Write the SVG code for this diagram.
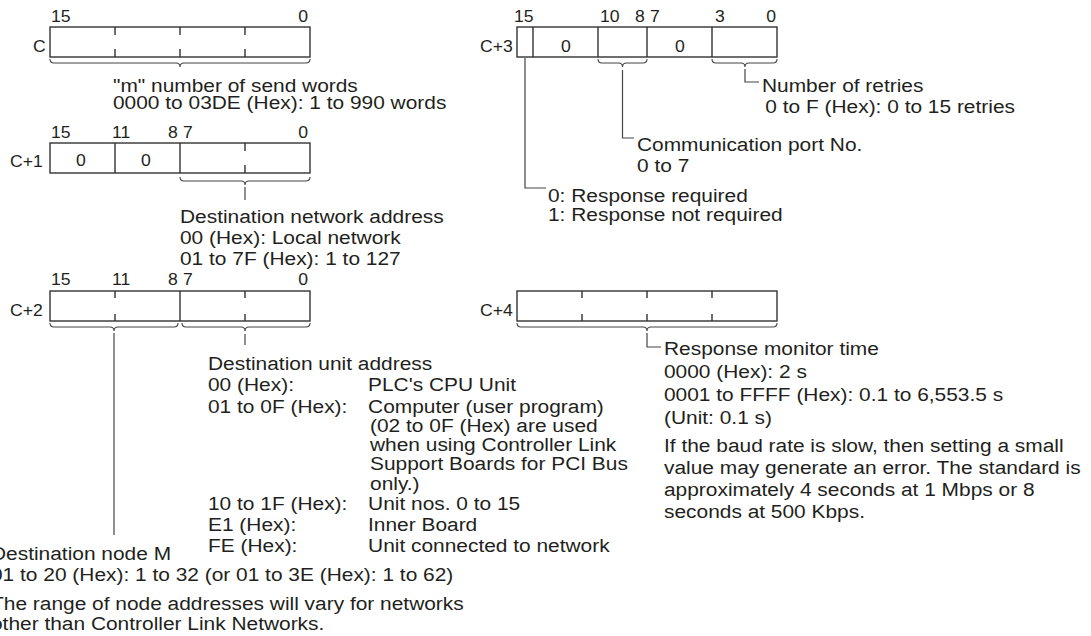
<svg xmlns="http://www.w3.org/2000/svg" width="1091" height="636" viewBox="0 0 1091 636">
<style>
.box{fill:none;stroke:#333;stroke-width:1.4}
.tk{fill:none;stroke:#333;stroke-width:1.4}
.br{fill:none;stroke:#444;stroke-width:1.1}
.ln{fill:none;stroke:#444;stroke-width:1.2}
.t{font-family:"Liberation Sans",Arial,sans-serif;font-size:19px;fill:#231f20}
.l{font-family:"Liberation Sans",Arial,sans-serif;font-size:16px;fill:#231f20}
.e{text-anchor:end}
.m{text-anchor:middle}
</style>
<rect width="1091" height="636" fill="#fff"/>

<g id="word-c">
<text class="l" transform="translate(51,21.5) scale(1.1,1)">15</text>
<text class="l e" transform="translate(308,21.5) scale(1.1,1)">0</text>
<text class="l" transform="translate(33,52) scale(1.1,1)">C</text>
<rect class="box" x="50" y="27" width="260" height="30"/>
<path class="tk" d="M115,27V35M115,49V57M180,27V35M180,49V57M245,27V35M245,49V57"/>
</g>
<g id="note-c">
<text class="t" transform="translate(113,91.5) scale(1.1,1)"><tspan x="0" y="0">"m" number of send words</tspan><tspan x="0" y="17.5">0000 to 03DE (Hex): 1 to 990 words</tspan></text>
</g>

<g id="word-c1">
<text class="l" transform="translate(51,138) scale(1.1,1)">15</text>
<text class="l" transform="translate(112,138) scale(1.1,1)">11</text>
<text class="l" transform="translate(168,138) scale(1.1,1)">8</text>
<text class="l" transform="translate(183,138) scale(1.1,1)">7</text>
<text class="l e" transform="translate(308,138) scale(1.1,1)">0</text>
<text class="l" transform="translate(10,167) scale(1.1,1)">C+1</text>
<rect class="box" x="50" y="143" width="260" height="30"/>
<path class="tk" d="M115,143V173M180,143V173M245,143V151M245,165V173"/>
<text class="l m" transform="translate(81,166) scale(1.1,1)">0</text>
<text class="l m" transform="translate(146,166) scale(1.1,1)">0</text>
</g>
<g id="note-c1">
<text class="t" transform="translate(180,223) scale(1.1,1)"><tspan x="0" y="0">Destination network address</tspan><tspan x="0" y="21">00 (Hex): Local network</tspan><tspan x="0" y="42">01 to 7F (Hex): 1 to 127</tspan></text>
</g>

<g id="word-c2">
<text class="l" transform="translate(51,285) scale(1.1,1)">15</text>
<text class="l" transform="translate(112,285) scale(1.1,1)">11</text>
<text class="l" transform="translate(168,285) scale(1.1,1)">8</text>
<text class="l" transform="translate(183,285) scale(1.1,1)">7</text>
<text class="l e" transform="translate(308,285) scale(1.1,1)">0</text>
<text class="l" transform="translate(10,316) scale(1.1,1)">C+2</text>
<rect class="box" x="50" y="291" width="260" height="30"/>
<path class="tk" d="M180,291V321M115,291V298M115,314V321M245,291V298M245,314V321"/>
</g>
<g id="note-c2-unit">
<text class="t" transform="translate(208,370) scale(1.1,1)"><tspan x="0" y="0">Destination unit address</tspan><tspan x="0" y="21.5">00 (Hex):</tspan><tspan x="145.5" y="21.5">PLC's CPU Unit</tspan><tspan x="0" y="43">01 to 0F (Hex):</tspan><tspan x="145.5" y="43">Computer (user program)</tspan><tspan x="147.3" y="62">(02 to 0F (Hex) are used</tspan><tspan x="147.3" y="81">when using Controller Link</tspan><tspan x="147.3" y="100.5">Support Boards for PCI Bus</tspan><tspan x="147.3" y="120">only.)</tspan><tspan x="0" y="140">10 to 1F (Hex):</tspan><tspan x="145.5" y="140">Unit nos. 0 to 15</tspan><tspan x="0" y="161">E1 (Hex):</tspan><tspan x="145.5" y="161">Inner Board</tspan><tspan x="0" y="182">FE (Hex):</tspan><tspan x="145.5" y="182">Unit connected to network</tspan></text>
</g>
<g id="note-c2-node">
<text class="t" transform="translate(-9,560) scale(1.1,1)"><tspan x="0" y="0">Destination node M</tspan><tspan x="0" y="21.5">01 to 20 (Hex): 1 to 32 (or 01 to 3E (Hex): 1 to 62)</tspan><tspan x="0" y="50">The range of node addresses will vary for networks</tspan><tspan x="0" y="70">other than Controller Link Networks.</tspan></text>
</g>

<g id="word-c3">
<text class="l" transform="translate(514,21.5) scale(1.1,1)">15</text>
<text class="l" transform="translate(600,21.5) scale(1.1,1)">10</text>
<text class="l" transform="translate(635,21.5) scale(1.1,1)">8</text>
<text class="l" transform="translate(650,21.5) scale(1.1,1)">7</text>
<text class="l" transform="translate(715,21.5) scale(1.1,1)">3</text>
<text class="l e" transform="translate(776,21.5) scale(1.1,1)">0</text>
<text class="l" transform="translate(480,52) scale(1.1,1)">C+3</text>
<rect class="box" x="517" y="27" width="260" height="30"/>
<path class="tk" d="M533,27V57M598,27V57M647,27V57M712,27V57"/>
<text class="l m" transform="translate(566,52) scale(1.1,1)">0</text>
<text class="l m" transform="translate(680,52) scale(1.1,1)">0</text>
</g>
<g id="note-c3-retries">
<text class="t" transform="translate(762,91.5) scale(1.1,1)"><tspan x="0" y="0">Number of retries</tspan><tspan x="3" y="21.5">0 to F (Hex): 0 to 15 retries</tspan></text>
</g>
<g id="note-c3-port">
<text class="t" transform="translate(637,151) scale(1.1,1)"><tspan x="0" y="0">Communication port No.</tspan><tspan x="0" y="21">0 to 7</tspan></text>
</g>
<g id="note-c3-response">
<text class="t" transform="translate(548,201.5) scale(1.1,1)"><tspan x="0" y="0">0: Response required</tspan><tspan x="0" y="20">1: Response not required</tspan></text>
</g>

<g id="word-c4">
<text class="l" transform="translate(480,316) scale(1.1,1)">C+4</text>
<rect class="box" x="517" y="291" width="260" height="30"/>
<path class="tk" d="M582,291V298M582,314V321M647,291V298M647,314V321M712,291V298M712,314V321"/>
</g>
<g id="note-c4">
<text class="t" transform="translate(664,355) scale(1.1,1)"><tspan x="0" y="0">Response monitor time</tspan><tspan x="0" y="23">0000 (Hex): 2 s</tspan><tspan x="0" y="46">0001 to FFFF (Hex): 0.1 to 6,553.5 s</tspan><tspan x="0" y="69">(Unit: 0.1 s)</tspan><tspan x="0" y="97">If the baud rate is slow, then setting a small</tspan><tspan x="0" y="119">value may generate an error. The standard is</tspan><tspan x="0" y="141">approximately 4 seconds at 1 Mbps or 8</tspan><tspan x="0" y="163">seconds at 500 Kbps.</tspan></text>
</g>

<g id="connectors">
<path class="br" d="M50,59Q50,63 54,63H176Q180,63 180,67Q180,63 184,63H306Q310,63 310,59"/>
<path class="br" d="M180,177Q180,181 184,181H241Q245,181 245,185Q245,181 249,181H306Q310,181 310,177"/>
<path class="br" d="M50,323Q50,327 54,327H110Q114,327 114,331Q114,327 118,327H174Q178,327 178,323"/>
<path class="br" d="M182,323Q182,327 186,327H241Q245,327 245,331Q245,327 249,327H306Q310,327 310,323"/>
<path class="br" d="M598,59Q598,63 602,63H618.5Q622.5,63 622.5,67Q622.5,63 626.5,63H643Q647,63 647,59"/>
<path class="br" d="M712,59Q712,63 716,63H741Q745,63 745,67Q745,63 749,63H773Q777,63 777,59"/>
<path class="br" d="M517,323Q517,327 521,327H643Q647,327 647,331Q647,327 651,327H773Q777,327 777,323"/>
<path class="ln" d="M245,187V200"/>
<path class="ln" d="M114,333V535"/>
<path class="ln" d="M245,334V345"/>
<path class="ln" d="M525,58V188H546"/>
<path class="ln" d="M622.5,70V138H634"/>
<path class="ln" d="M745,69V82H759"/>
<path class="ln" d="M647,333V347H661"/>
</g>
</svg>
